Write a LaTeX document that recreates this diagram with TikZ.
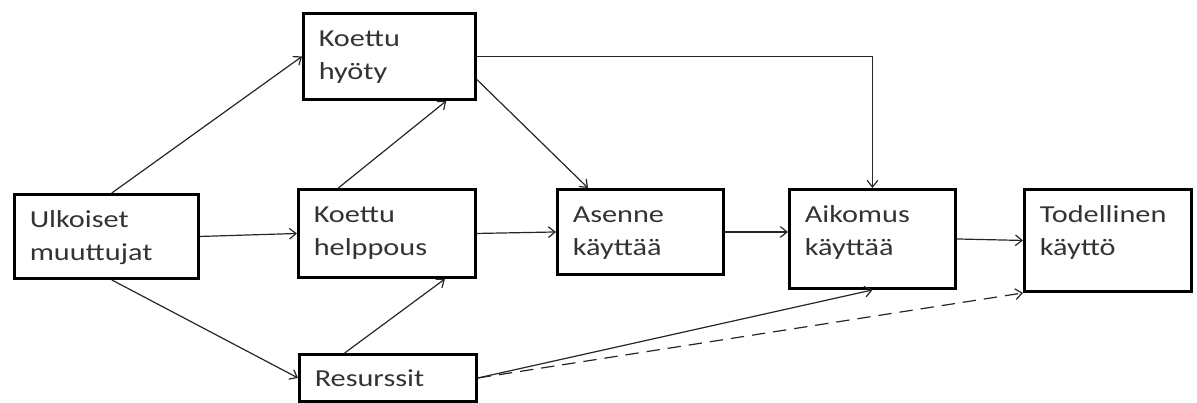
\documentclass[tikz,border=0pt]{standalone}
\usepackage{fontspec}
\setmainfont{Carlito}[FakeStretch=1.24]
\usetikzlibrary{arrows.meta}

\begin{document}
\begin{tikzpicture}[x=0.75pt,y=-0.75pt,->,>={Straight Barb[length=5pt,width=8pt]},
  box/.style={draw,line width=2.2pt,anchor=north west,align=left,
    font=\fontsize{18.3pt}{25pt}\selectfont,text=black!80,
    inner xsep=11.5pt,inner ysep=13.5pt,text height=11.25pt},
  link/.style={line width=0.9pt,draw=black!85}]

  \useasboundingbox (0,0) rectangle (1197,403);

  \node[box,minimum width=138pt,text width=115pt,text depth=24.75pt] (ulk) at (13,193) {Ulkoiset\\muuttujat};
  \node[box,minimum width=129pt,text width=106pt,text depth=26.25pt] (hyoty) at (302,12) {Koettu\\hyöty};
  \node[box,minimum width=132.75pt,text width=109.75pt,text depth=27.75pt] (help) at (297,188) {Koettu\\helppous};
  \node[box,minimum width=132.75pt,text width=109.75pt,inner ysep=11.25pt,text height=12.75pt,text depth=0pt] (res) at (298,353) {Resurssit};
  \node[box,minimum width=124.5pt,text width=101.5pt,text depth=25.5pt] (asenne) at (556,188) {Asenne\\käyttää};
  \node[box,minimum width=124.5pt,text width=101.5pt,text depth=36pt] (aik) at (788,188) {Aikomus\\käyttää};
  \node[box,minimum width=125.25pt,text width=102.25pt,text depth=38.25pt] (tod) at (1023,188) {Todellinen\\käyttö};

  % ulkoiset muuttujat -> koettu hyoty / helppous / resurssit
  \draw[link] ([xshift=4pt]ulk.north) -- (hyoty.west);
  \draw[link] (ulk.east) -- (help.west);
  \draw[link] ([xshift=4pt]ulk.south) -- (res.west);

  \draw[link] ([xshift=31pt]help.north west) -- ([xshift=-23pt]hyoty.south east);
  \draw[link] ([xshift=35pt]res.north west) -- ([xshift=-24pt]help.south east);
  \draw[link] ([yshift=16pt]hyoty.south east) -- ([xshift=24pt]asenne.north west);
  \draw[link] (hyoty.east) -| (aik.north);
  \draw[link] (help.east) -- (asenne.west);
  \draw[link] (asenne.east) -- (asenne.east -| aik.west);
  \draw[link] (aik.east) -- (tod.west);
  \draw[link] (res.east) -- (aik.south);
  \draw[link,dash pattern=on 10pt off 6pt] (res.east) -- (tod.south west);

\end{tikzpicture}
\end{document}
